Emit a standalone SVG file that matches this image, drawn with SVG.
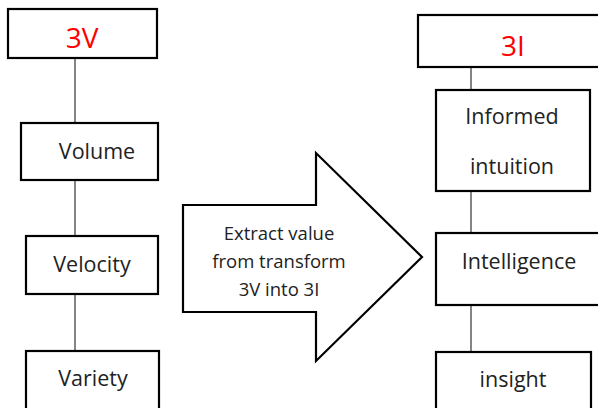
<svg xmlns="http://www.w3.org/2000/svg" width="598" height="408" viewBox="0 0 598 408">
  <style>
    .box { fill: #fff; stroke: #000; stroke-width: 2.2; }
    .link { stroke: #333; stroke-width: 1.2; fill: none; }
    .lbl { font-family: "Open Sans", "Liberation Sans", sans-serif; font-size: 21.5px; fill: #222; text-anchor: middle; dominant-baseline: central; }
    .head { font-family: "Open Sans", "Liberation Sans", sans-serif; font-size: 28px; fill: #ff0000; text-anchor: middle; dominant-baseline: central; }
    .arrowtxt { font-family: "Open Sans", "Liberation Sans", sans-serif; font-size: 18.5px; fill: #222; text-anchor: middle; dominant-baseline: central; }
  </style>
  <rect width="598" height="408" fill="#fff"/>

  <!-- connectors -->
  <g id="connectors">
    <line class="link" x1="75" y1="58" x2="75" y2="123"/>
    <line class="link" x1="75" y1="180" x2="75" y2="236"/>
    <line class="link" x1="75" y1="294" x2="75" y2="351"/>
    <line class="link" x1="471" y1="67" x2="471" y2="90"/>
    <line class="link" x1="471" y1="191" x2="471" y2="233"/>
    <line class="link" x1="471" y1="305" x2="471" y2="352"/>
  </g>

  <!-- left column -->
  <g id="node-3v">
    <rect class="box" x="8" y="9" width="149" height="49"/>
    <text class="head" x="82" y="37">3V</text>
  </g>
  <g id="node-volume">
    <rect class="box" x="21" y="123" width="137" height="57"/>
    <text class="lbl" x="97" y="150">Volume</text>
  </g>
  <g id="node-velocity">
    <rect class="box" x="26" y="236" width="132" height="58"/>
    <text class="lbl" x="92" y="263">Velocity</text>
  </g>
  <g id="node-variety">
    <rect class="box" x="26" y="351" width="133" height="70"/>
    <text class="lbl" x="93" y="377">Variety</text>
  </g>

  <!-- block arrow -->
  <g id="node-arrow">
    <polygon class="box" points="183,205 316,205 316,153 422,257 316,361 316,312 183,312"/>
    <text class="arrowtxt" x="279" y="232">Extract value</text>
    <text class="arrowtxt" x="279" y="260">from transform</text>
    <text class="arrowtxt" x="279" y="288">3V into 3I</text>
  </g>

  <!-- right column -->
  <g id="node-3i">
    <rect class="box" x="418" y="15" width="190" height="52"/>
    <text class="head" x="513" y="45">3I</text>
  </g>
  <g id="node-informed">
    <rect class="box" x="436" y="90" width="154" height="101"/>
    <text class="lbl" x="512" y="115">Informed</text>
    <text class="lbl" x="512" y="165">intuition</text>
  </g>
  <g id="node-intelligence">
    <rect class="box" x="436" y="233" width="172" height="72"/>
    <text class="lbl" x="519" y="260">Intelligence</text>
  </g>
  <g id="node-insight">
    <rect class="box" x="436" y="352" width="155" height="70"/>
    <text class="lbl" x="513" y="378">insight</text>
  </g>
</svg>
